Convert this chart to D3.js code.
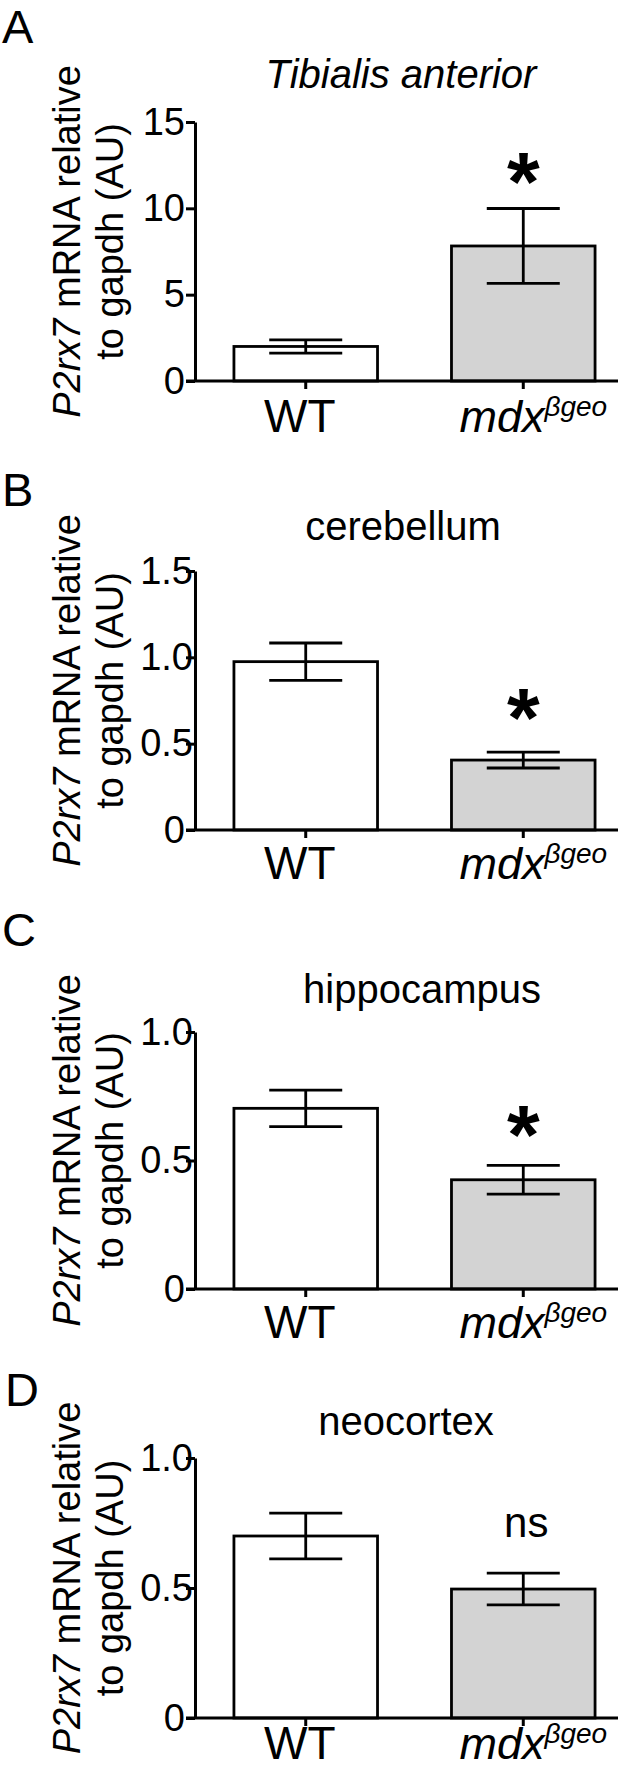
<!DOCTYPE html>
<html><head><meta charset="utf-8">
<script src="https://cdn.jsdelivr.net/npm/d3@7"></script>
<style>
body{margin:0;background:#fff}
svg{display:block}
text{font-family:"Liberation Sans", Arial, Helvetica, sans-serif; fill:#000}
</style>
</head><body>
<svg id="chart" width="618" height="1769"></svg>
<script>
// ---------- data ----------
const categories = ["WT", "mdx"];
const panelLetters = ["A", "B", "C", "D"];
const panelTitles = ["Tibialis anterior", "cerebellum", "hippocampus", "neocortex"];
const titleItalic = [true, false, false, false];

const meansA = [2.0, 7.82];   const semA = [0.38, 2.17];
const meansB = [0.975, 0.405]; const semB = [0.108, 0.046];
const meansC = [0.703, 0.425]; const semC = [0.071, 0.056];
const meansD = [0.70, 0.496];  const semD = [0.088, 0.061];

const yMaxes = [15, 1.5, 1.0, 1.0];
const ticksA = [0, 5, 10, 15];       const tickLabelsA = ["0", "5", "10", "15"];
const ticksB = [0, 0.5, 1.0, 1.5];   const tickLabelsB = ["0", "0.5", "1.0", "1.5"];
const ticksC = [0, 0.5, 1.0];        const tickLabelsC = ["0", "0.5", "1.0"];
const ticksD = [0, 0.5, 1.0];        const tickLabelsD = ["0", "0.5", "1.0"];
const significance = ["*", "*", "*", "ns"];
const yLabelLine1Italic = "P2rx7";
const yLabelLine1Rest = " mRNA relative";
const yLabelLine2 = "to gapdh (AU)";
const xLabelWT = "WT";
const xLabelMdx = "mdx";
const xLabelMdxSup = "\u03B2geo";

// ---------- layout ----------
const panels = [
  {means: meansA, sem: semA, ticks: ticksA, labels: tickLabelsA},
  {means: meansB, sem: semB, ticks: ticksB, labels: tickLabelsB},
  {means: meansC, sem: semC, ticks: ticksC, labels: tickLabelsC},
  {means: meansD, sem: semD, ticks: ticksD, labels: tickLabelsD}
];
const L = {
  axisX: 195,
  axisTop: [122, 571, 1032, 1458],
  axisBottom: [381, 830, 1289, 1718],
  letterY: [43, 506, 946, 1406],
  letterX: [2, 2, 2, 5],
  titleX: [401, 403, 422, 406],
  titleY: [88, 540, 1003, 1435],
  sigCenterY: [164, 700, 1117, 1524],
  xLabelDy: [51, 49, 49, 41]
};

const svg = d3.select("#chart");
svg.append("rect").attr("width", 618).attr("height", 1769).attr("fill", "#fff");

panels.forEach((p, i) => {
  const g = svg.append("g");
  const y = d3.scaleLinear().domain([0, yMaxes[i]]).range([L.axisBottom[i], L.axisTop[i]]);
  const x = d3.scaleBand().domain(categories).range([195, 634]).paddingInner(0.34).paddingOuter(0.179);
  const cx = c => x(c) + x.bandwidth() / 2;

  // panel letter
  g.append("text").attr("x", L.letterX[i]).attr("y", L.letterY[i])
    .attr("font-size", 47).text(panelLetters[i]);

  // title
  g.append("text").attr("x", L.titleX[i]).attr("y", L.titleY[i])
    .attr("text-anchor", "middle").attr("font-size", 40)
    .attr("font-style", titleItalic[i] ? "italic" : "normal")
    .text(panelTitles[i]);

  // y-axis label
  const cy = (L.axisTop[i] + L.axisBottom[i]) / 2 - 10;
  const yl1 = g.append("text").attr("transform", `translate(80,${cy}) rotate(-90)`)
    .attr("text-anchor", "middle").attr("font-size", 38);
  yl1.append("tspan").attr("font-style", "italic").text(yLabelLine1Italic);
  yl1.append("tspan").text(yLabelLine1Rest);
  g.append("text").attr("transform", `translate(123,${cy}) rotate(-90)`)
    .attr("text-anchor", "middle").attr("font-size", 38).text(yLabelLine2);

  // bars
  g.selectAll("rect.bar").data(categories).enter().append("rect")
    .attr("class", "bar")
    .attr("x", c => x(c))
    .attr("width", x.bandwidth())
    .attr("y", (c, j) => y(p.means[j]))
    .attr("height", (c, j) => y(0) - y(p.means[j]))
    .attr("fill", (c, j) => j === 0 ? "#ffffff" : "#d3d3d3")
    .attr("stroke", "#000").attr("stroke-width", 2.8);

  // error bars
  const capW = 73;
  categories.forEach((c, j) => {
    const hi = y(p.means[j] + p.sem[j]), lo = y(p.means[j] - p.sem[j]);
    g.append("line").attr("x1", cx(c)).attr("x2", cx(c)).attr("y1", hi).attr("y2", lo)
      .attr("stroke", "#000").attr("stroke-width", 2.8);
    [hi, lo].forEach(v => g.append("line")
      .attr("x1", cx(c) - capW / 2).attr("x2", cx(c) + capW / 2)
      .attr("y1", v).attr("y2", v).attr("stroke", "#000").attr("stroke-width", 2.8));
  });

  // y axis
  const yAxis = d3.axisLeft(y).tickValues(p.ticks).tickSize(9).tickSizeOuter(0).tickPadding(1)
    .tickFormat((d, k) => p.labels[k]);
  const ya = g.append("g").attr("transform", `translate(${L.axisX},0)`).call(yAxis);
  ya.select(".domain").attr("stroke-width", 3).attr("stroke", "#000");
  ya.selectAll(".tick line").attr("stroke-width", 3).attr("stroke", "#000");
  ya.selectAll(".tick text").attr("font-size", 38).attr("font-family", null)
    .attr("dx", (d, k) => p.labels[k].includes(".") ? 8 : 0);

  // x axis line
  g.append("line").attr("x1", L.axisX - 9).attr("x2", 618)
    .attr("y1", y(0)).attr("y2", y(0)).attr("stroke", "#000").attr("stroke-width", 3);
  // x ticks
  categories.forEach(c => g.append("line").attr("x1", cx(c)).attr("x2", cx(c))
    .attr("y1", y(0)).attr("y2", y(0) + 8).attr("stroke", "#000").attr("stroke-width", 3));
  // x labels
  const ly = y(0) + L.xLabelDy[i];
  g.append("text").attr("x", cx("WT") - 6).attr("y", ly).attr("text-anchor", "middle")
    .attr("font-size", 46).text(xLabelWT);
  const mt = g.append("text").attr("x", cx("mdx") + 10).attr("y", ly).attr("text-anchor", "middle")
    .attr("font-size", 45).attr("font-style", "italic");
  mt.append("tspan").text(xLabelMdx);
  mt.append("tspan").attr("font-size", 28).attr("dy", -16).text(xLabelMdxSup);

  // significance
  const sig = significance[i];
  if (sig === "*") {
    g.append("text").attr("x", cx("mdx")).attr("y", L.sigCenterY[i] + 0.56 * 84)
      .attr("text-anchor", "middle").attr("font-size", 84).attr("font-weight", "bold").text(sig);
  } else {
    g.append("text").attr("x", cx("mdx") + 3).attr("y", L.sigCenterY[i] + 13)
      .attr("text-anchor", "middle").attr("font-size", 42).text(sig);
  }
});
</script>
</body></html>
